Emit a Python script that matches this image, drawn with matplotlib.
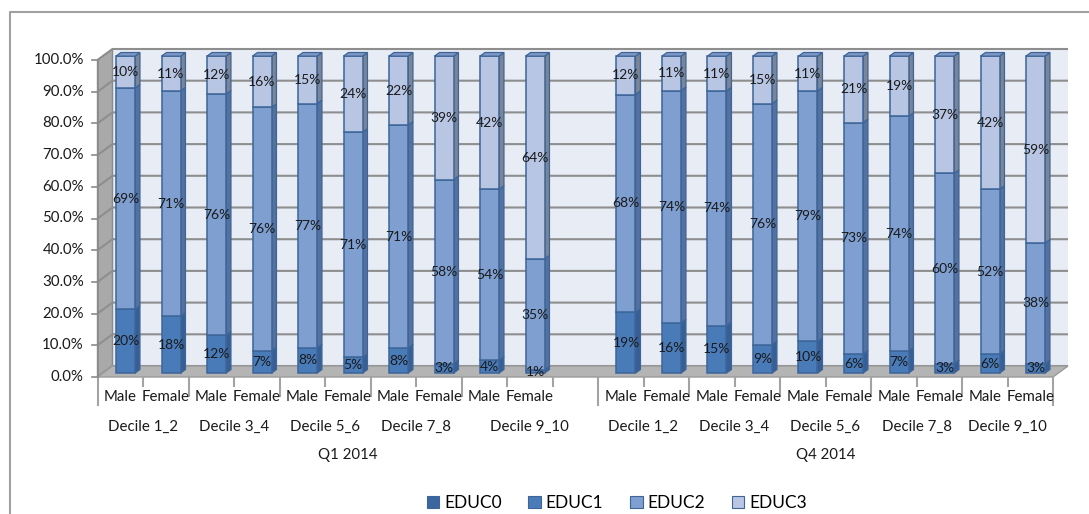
import matplotlib
matplotlib.use("Agg")
import matplotlib.pyplot as plt
from matplotlib.patches import Polygon, Patch
from matplotlib.lines import Line2D

plt.rcParams['font.family'] = ['Lato', 'DejaVu Sans']

# ---- data -------------------------------------------------------------
quarters = ["Q1 2014", "Q4 2014"]
deciles = ["Decile 1_2", "Decile 3_4", "Decile 5_6", "Decile 7_8", "Decile 9_10"]
sexes = ["Male", "Female"]
series_names = ["EDUC0", "EDUC1", "EDUC2", "EDUC3"]

# values per quarter, ordered Male/Female within each decile
educ0_q1 = [0, 0, 0, 0, 0, 0, 0, 0, 0, 0]
educ1_q1 = [20, 18, 12, 7, 8, 5, 8, 3, 4, 1]
educ2_q1 = [69, 71, 76, 76, 77, 71, 71, 58, 54, 35]
educ3_q1 = [10, 11, 12, 16, 15, 24, 22, 39, 42, 64]

educ0_q4 = [0, 0, 0, 0, 0, 0, 0, 0, 0, 0]
educ1_q4 = [19, 16, 15, 9, 10, 6, 7, 3, 6, 3]
educ2_q4 = [68, 74, 74, 76, 79, 73, 74, 60, 52, 38]
educ3_q4 = [12, 11, 11, 15, 11, 21, 19, 37, 42, 59]

# one blank category closes the last decile group of the first quarter
blank_after = [1, 0]

yticks = [0, 10, 20, 30, 40, 50, 60, 70, 80, 90, 100]

# ---- style ------------------------------------------------------------
front_cols = ["#3a679f", "#4a7bb9", "#7f9fd1", "#b8c6e3"]
side_cols = ["#2c5282", "#355f96", "#54719f", "#7b8596"]
top_cols = ["#5d82b8", "#6d8fc4", "#8fa7d2", "#7f98c6"]
edge_col = "#3d6598"
grid_col = "#8e8e8e"
frame_col = "#a3a3a3"
text_col = "#1a1a1a"

W, H = 1089, 514
fig = plt.figure(figsize=(W / 100, H / 100), dpi=100)
fig.patch.set_facecolor("white")

x0_px, x1_px, y0_px, y1_px = 97.5, 1053, 377, 60
ax = fig.add_axes([x0_px / W, (H - y0_px) / H, (x1_px - x0_px) / W, (y0_px - y1_px) / H])
n_slots = 10 * len(quarters) + sum(blank_after)
ax.set_xlim(0, n_slots)
ax.set_ylim(0, 100)
ax.axis("off")

PX = (x1_px - x0_px) / n_slots       # pixels per slot
PY = (y0_px - y1_px) / 100.0         # pixels per percent
DX, DY = 15 / PX, 11 / PY            # depth of the walls in data units
F1, F2 = 0.35, 0.68                  # bar depth inside the wall depth
BW = 19 / PX                         # bar width

# back wall, gridlines, side wall and floor
ax.add_patch(Polygon([(DX, DY), (n_slots + DX, DY), (n_slots + DX, 100 + DY), (DX, 100 + DY)],
                     closed=True, facecolor="#e7ecf5", edgecolor="none", zorder=0, clip_on=False))
ax.add_patch(Polygon([(0, 0), (DX, DY), (DX, 100 + DY), (0, 100)], closed=True,
                     facecolor="#a9a9a9", edgecolor="#8a8a8a", lw=1.0, zorder=1.5, clip_on=False))
for t in yticks:
    ax.plot([0, DX, n_slots + DX], [t, t + DY, t + DY], color=grid_col, lw=1.5,
            zorder=1.6, clip_on=False, solid_capstyle="butt")
ax.add_patch(Polygon([(0, 0), (n_slots, 0), (n_slots + DX, DY), (DX, DY)], closed=True,
                     facecolor="#b4b4b4", edgecolor="#9a9a9a", lw=1.0, zorder=2, clip_on=False))
ax.plot([0, 0], [0, 100], color="#8a8a8a", lw=1.2, zorder=2.1, clip_on=False)

# y axis ticks and labels
for t in yticks:
    ax.plot([-0.12, 0], [t, t], color="#8a8a8a", lw=1.2, clip_on=False, zorder=2.1)
    ax.text(-0.3, t, f"{t:.1f}%", ha="right", va="center", fontsize=10.8,
            color=text_col, clip_on=False)

# ---- stacked 3d-looking columns --------------------------------------
quarter_data = [
    [educ0_q1, educ1_q1, educ2_q1, educ3_q1],
    [educ0_q4, educ1_q4, educ2_q4, educ3_q4],
]

slot_pos = []
slot = 0
for qi in range(len(quarters)):
    row = []
    for k in range(10):
        row.append(slot)
        slot += 1
    slot += blank_after[qi]
    slot_pos.append(row)

ox, oy = F1 * DX, F1 * DY
bdx, bdy = (F2 - F1) * DX, (F2 - F1) * DY
for qi, vals in enumerate(quarter_data):
    for k, s in enumerate(slot_pos[qi]):
        col_vals = [v[k] for v in vals]
        total = float(sum(col_vals))
        xc = s + 0.5 + ox
        xl, xr = xc - BW / 2, xc + BW / 2
        cum = 0.0
        segs = [(j, v, v / total * 100.0) for j, v in enumerate(col_vals) if v > 0]
        for n, (j, v, h) in enumerate(segs):
            yb, yt = oy + cum, oy + cum + h
            ax.add_patch(Polygon([(xr, yb), (xr + bdx, yb + bdy), (xr + bdx, yt + bdy), (xr, yt)],
                                 closed=True, facecolor=side_cols[j], edgecolor=edge_col,
                                 lw=0.9, zorder=3, clip_on=False))
            ax.bar(xc, h, bottom=yb, width=BW, color=front_cols[j], edgecolor=edge_col,
                   linewidth=1.1, zorder=4, clip_on=False)
            if n == len(segs) - 1:
                ax.add_patch(Polygon([(xl, yt), (xl + bdx, yt + bdy), (xr + bdx, yt + bdy), (xr, yt)],
                                     closed=True, facecolor=top_cols[j], edgecolor=edge_col,
                                     lw=0.9, zorder=4.5, clip_on=False))
            ax.text(xc, yb + h / 2, f"{v}%", ha="center", va="center", fontsize=10,
                    color=text_col, zorder=10, clip_on=False)
            cum += h

# ---- multi-level category axis ---------------------------------------
r1, r2, r3 = 8.8 / PY, 18.9 / PY, 27.8 / PY
t1, t2, t3 = 20 / PY, 50 / PY, 78 / PY
line_kw = dict(color=frame_col, lw=1.5, clip_on=False, zorder=2)
slot = 0
for qi, q in enumerate(quarters):
    q_start = slot
    for di, d in enumerate(deciles):
        d_start = slot
        width = len(sexes) + (blank_after[qi] if di == len(deciles) - 1 else 0)
        for si, sx in enumerate(sexes):
            ax.text(slot + 0.5, -t1, sx, ha="center", va="center", fontsize=10.8,
                    color=text_col, clip_on=False)
            if si > 0:
                ax.plot([slot, slot], [0, -r1], **line_kw)
            slot += 1
        for extra in range(len(sexes), width):
            ax.plot([d_start + extra, d_start + extra], [0, -r1], **line_kw)
        slot = d_start + width
        ax.text(d_start + width / 2, -t2, d, ha="center", va="center",
                fontsize=10.8, color=text_col, clip_on=False)
        if di > 0:
            ax.plot([d_start, d_start], [0, -r2], **line_kw)
    ax.text((q_start + slot) / 2, -t3, q, ha="center", va="center",
            fontsize=10.8, color=text_col, clip_on=False)
    ax.plot([q_start, q_start], [0, -r3], **line_kw)
ax.plot([slot, slot], [0, -r3], **line_kw)

# ---- legend -----------------------------------------------------------
handles = [Patch(facecolor=front_cols[j], edgecolor=edge_col, lw=0.8, label=series_names[j])
           for j in range(len(series_names))]
fig.legend(handles=handles, loc="center", bbox_to_anchor=(617 / W, 1 - 503 / H), ncol=4,
           frameon=False, fontsize=12.5, handlelength=0.7, handleheight=0.7,
           handletextpad=0.3, columnspacing=1.55)

# ---- chart frame ------------------------------------------------------
fig.add_artist(Line2D([9.5 / W, 9.5 / W, 1.0], [0.0, 1 - 11.5 / H, 1 - 11.5 / H],
                      transform=fig.transFigure, color="#a0a0a0", lw=1.5))

fig.savefig("out.png", dpi=100)
